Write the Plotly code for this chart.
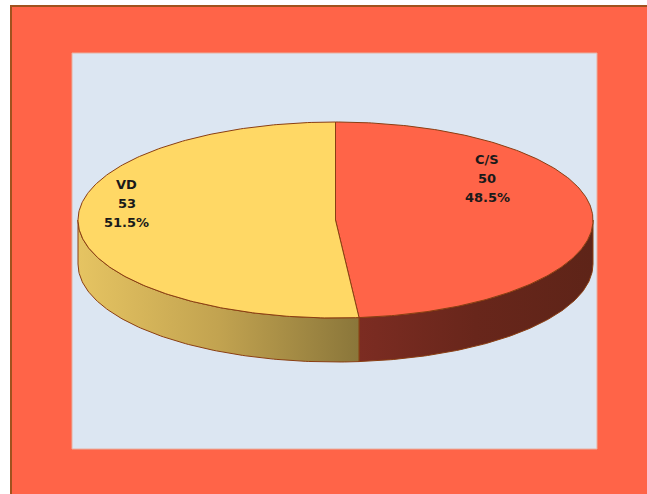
import numpy as np
import plotly.graph_objects as go

# ---- data ----
categories = ["C/S", "VD"]
values = [50, 53]

# ---- style ----
top_colors = ["#FF6448", "#FFD865"]
side_scales = [
    [[0, "#7C2C22"], [0.5, "#68261B"], [1, "#5E2418"]],
    [[0, "#E6C462"], [0.5, "#C2A350"], [1, "#8A763A"]],
]
edge = "#8A3E12"
W, H = 647, 494
cx, cy, rx, ry, depth = 335.5, 220, 257.5, 98, 44
# label anchor as fraction of ellipse radii (x, y)
label_anchor = [(0.59, -0.42), (-0.81, -0.17)]

total = sum(values)
fracs = [v / total for v in values]

fig = go.Figure()

def pt(theta_deg, dy=0.0):
    t = np.radians(theta_deg)
    return cx + rx * np.sin(t), cy - ry * np.cos(t) + dy

starts = np.concatenate([[0], np.cumsum(fracs)[:-1]]) * 360
ends = np.cumsum(fracs) * 360

# side walls (visible front part: 90..270 deg)
for i in range(len(values)):
    a0, a1 = max(starts[i], 90), min(ends[i], 270)
    if a1 <= a0:
        continue
    th = np.linspace(a0, a1, 120)
    xt, yt = pt(th)
    xb, yb = pt(th[::-1], depth)
    xs = np.concatenate([xt, xb, xt[:1]])
    ys = np.concatenate([yt, yb, yt[:1]])
    fig.add_trace(go.Scatter(
        x=xs, y=ys, mode="lines", fill="toself",
        fillgradient=dict(type="horizontal", colorscale=side_scales[i]),
        line=dict(color=edge, width=1), hoverinfo="skip", showlegend=False))

# top faces
for i in range(len(values)):
    th = np.linspace(starts[i], ends[i], 240)
    xa, ya = pt(th)
    xs = np.concatenate([[cx], xa, [cx]])
    ys = np.concatenate([[cy], ya, [cy]])
    fig.add_trace(go.Scatter(
        x=xs, y=ys, mode="lines", fill="toself", fillcolor=top_colors[i],
        line=dict(color=edge, width=1), hoverinfo="skip", showlegend=False))

# labels
for i, cat in enumerate(categories):
    lx = cx + label_anchor[i][0] * rx
    ly = cy + label_anchor[i][1] * ry
    lines = [cat, str(values[i]), f"{fracs[i]*100:.1f}%"]
    for k, t in enumerate(lines):
        fig.add_annotation(x=lx, y=ly + (k - 1) * 19, text=t, showarrow=False,
                           font=dict(family="DejaVu Sans", size=13, color="#1A1A1A",
                                     weight="bold"),
                           xanchor="center", yanchor="middle")

# frame and plot area background
shapes = [
    dict(type="rect", xref="x", yref="y", x0=11, y0=6, x1=W + 5, y1=H + 5,
         fillcolor="#FF6448", line=dict(color="#A0521E", width=2), layer="below"),
    dict(type="rect", xref="x", yref="y", x0=72, y0=53, x1=597, y1=449,
         fillcolor="#DCE6F2", line=dict(color="#E8B0A0", width=1), layer="below"),
]

fig.update_layout(
    width=W, height=H, margin=dict(l=0, r=0, t=0, b=0),
    paper_bgcolor="white", plot_bgcolor="white", shapes=shapes,
    xaxis=dict(range=[0, W], visible=False, fixedrange=True),
    yaxis=dict(range=[H, 0], visible=False, fixedrange=True),
    showlegend=False,
)
fig.write_html("out.html")
